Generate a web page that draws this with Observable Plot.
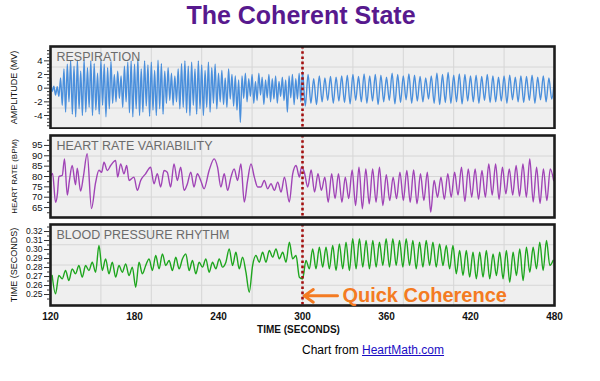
<!DOCTYPE html>
<html><head><meta charset="utf-8">
<script src="https://cdn.jsdelivr.net/npm/d3@7"></script>
<script src="https://cdn.jsdelivr.net/npm/@observablehq/plot@0.6"></script>
<style>
body{margin:0;background:#fff;font-family:"Liberation Sans",Arial,sans-serif;}
#wrap{position:relative;width:600px;height:381px;overflow:hidden;}
#title{position:absolute;top:1px;left:0;width:602px;text-align:center;font-weight:bold;font-size:25px;color:#57198e;}
.panel{position:absolute;left:0;}
.panel svg{background:transparent !important;}
#caption{position:absolute;top:343px;left:302px;font-size:12px;color:#000;white-space:nowrap;}
#caption a{color:#1a0dc4;text-decoration:underline;}
</style></head>
<body>
<div id="wrap">
  <div id="title">The Coherent State</div>
  <div class="panel" id="p1" style="top:40px"></div>
  <div class="panel" id="p2" style="top:129px"></div>
  <div class="panel" id="p3" style="top:219px"></div>
  <div id="caption">Chart from <a href="#">HeartMath.com</a></div>
</div>
<script>
// ---------- data ----------
const panelTitles = ["RESPIRATION", "HEART RATE VARIABILITY", "BLOOD PRESSURE RHYTHM"];
const yLabels = ["AMPLITUDE (MV)", "HEART RATE (BPM)", "TIME (SECONDS)"];
const xLabel = "TIME (SECONDS)";
const xTicks = [120, 180, 240, 300, 360, 420, 480];
const coherenceTime = 300;
const annotationText = "Quick Coherence";
const annotationArrow = [{x1: 325, x2: 301.2, y: 0.2485}];
const annotationLabel = [{x: 328.5, y: 0.2485}];

const respTicks = [-4, -2, 0, 2, 4];
const respMinor = [-5.5,-5,-4.5,-3.5,-3,-2.5,-1.5,-1,-0.5,0.5,1,1.5,2.5,3,3.5,4.5,5,5.5];
const hrTicks = [65, 70, 75, 80, 85, 90, 95];
const hrMinor = [62.5, 67.5, 72.5, 77.5, 82.5, 87.5, 92.5, 97.5];
const bpTicks = [0.25, 0.26, 0.27, 0.28, 0.29, 0.30, 0.31, 0.32];
const bpMinor = [0.245, 0.255, 0.265, 0.275, 0.285, 0.295, 0.305, 0.315, 0.325];

// Respiration, before coherence (every 1.2 s from 120 s)
const respStartA = 120, respStepA = 1.2;
const respA = [1.5,-0.5,0.3,-1.0,0.2,-1.2,1.5,-2.5,2.8,-3.5, 3.5,-2.0,4.0,-3.8,3.2,-4.2,4.1,-3.0,2.5,-4.0,
 4.2,-3.5,3.0,-2.8,4.0,-4.0,3.6,-3.2,2.2,-3.8, 4.1,-2.5,3.5,-4.2,3.0,-3.0,3.9,-2.2,2.0,-2.0,
 2.5,-1.5,1.8,-2.8,3.2,-2.0,3.8,-3.6,4.0,-4.2, 3.5,-3.0,4.2,-4.0,2.8,-3.5,4.0,-2.6,3.4,-4.1,
 3.8,-3.2,2.6,-4.0,4.1,-3.0,3.6,-3.8,2.5,-2.2, 3.0,-1.8,2.2,-2.5,1.8,-2.0,2.8,-3.0,3.6,-2.8,
 4.0,-3.6,3.2,-4.0,3.8,-2.5,2.8,-3.8,4.0,-3.0, 3.4,-4.0,2.6,-2.8,3.8,-3.5,3.0,-2.2,3.5,-3.0,
 2.2,-2.0,2.6,-2.4,1.5,-2.8,2.8,-1.6,2.0,-2.6, 1.8,-3.2,1.2,-5.0,1.8,-1.5,2.2,-2.0,1.4,-1.2,
 2.0,-2.2,1.0,-1.8,2.2,-1.0,1.6,-2.4,1.2,-1.4, 2.0,-2.0,1.4,-1.6,1.8,-2.2,1.0,-1.2,1.6,-1.8,
 1.2,-3.5,1.8,-1.4,2.0,-2.4,1.4,-1.6,2.2,-2.0, 2.4];
// Respiration, after coherence (every 2 s from 302 s)
const respStartB = 302, respStepB = 2;
const respB = [-2.6,2.0,-2.2,1.4,-2.4,1.8,-2.0,1.5,-1.8,1.7, -2.2,1.6,-1.9,1.8,-2.1,1.9,-2.3,2.0,-1.8,1.7,
 -2.0,2.1,-2.2,1.8,-1.9,2.0,-2.4,1.9,-2.0,1.6, -1.8,2.2,-2.3,2.0,-2.1,1.8,-1.7,2.1,-2.2,1.9,
 -1.9,1.7,-2.0,1.5,-1.6,1.8,-2.2,2.2,-2.4,2.0, -2.1,2.3,-2.2,1.9,-2.0,2.1,-2.3,2.0,-1.9,1.8,
 -2.0,1.9,-2.2,1.7,-1.8,2.0,-2.1,1.8,-2.0,1.6, -1.9,1.8,-2.2,1.9,-1.7,1.6,-2.0,1.8,-2.1,1.7,
 -1.8,1.9,-2.2,1.6,-1.7,1.8,-2.0,1.5,-1.6,1.4];

// Heart rate, before coherence (turning points)
const hrTimesA = [120.5,121.5,123.6,125,126,128.4,130,132,133.5,135.5,137.9,139.1,141.5,143.5,146.2,149.3,152.2,154.6,156.5,158.2,
 160.6,163,166.5,168,170.1,172.5,174.4,176.1,179.6,182,184.4,187.9,191.5,193.9,196.3,198.7,201.1,203.4,205.8,208.2,
 210.6,213,215.4,217.8,220.2,222.5,224.9,227.3,229.7,233.3,236.9,239.3,241.7,244.1,246.5,248.9,251.2,253.6,256,258.4,
 260.8,263.2,265.6,268,270.3,272.7,275.1,277.5,279.9,282.3,284.7,287.1,290.6,293,295.4,297.8,299.2];
const hrValsA = [80.5,81.5,67.5,72,80,80.5,88.5,71,78,85.3,76,84,73,80,91,64.5,77,83,82,86.9,
 82.9,85.3,87.7,79.7,86.1,81.3,85.3,78.1,79.7,73.3,78.1,81.3,84.5,76.5,81.3,74.9,82.9,82.1,74.9,86.1,
 78.1,84.5,73.3,76.5,82.1,74.9,81.3,78.1,74.1,82.9,88.5,84.5,74.9,81.3,73.3,79.7,83.7,78.1,86.1,67.7,
 78.1,86.1,79.7,74.9,74.9,78.1,74.1,76.5,73.3,77.3,72.5,79.7,67.7,81.3,85.3,79.7,84.5];
// Heart rate, after coherence (every 2.44 s from 301.3 s)
const hrStartB = 301.3, hrStepB = 2.44;
const hrB = [82.1,74.9,83.2,72.5,81.3,73.3,79.7,67.6,81.3,69.3, 81.3,67.6,79.7,69.3,83.2,66.0,84.5,64.4,83.7,66.8,
 83.7,67.6,84.5,66.0,80.9,68.4,79.7,69.3,82.1,68.4, 82.9,67.6,83.2,66.8,81.3,68.4,82.1,62.8,
 78.1,70.0,79.7,69.0,81.3,70.0,82.1,71.0,84.5,68.0, 83.7,70.0,83.7,69.0,82.9,70.0,86.1,71.0,86.1,69.0,
 84.5,71.6,83.7,71.0,85.3,70.5,86.1,70.0,88.5,67.7, 84.5,67.0,83.7,68.4,83.7,78.0];

// Blood pressure rhythm, before coherence (every 2.386 s from 121.2 s)
const bpStartA = 121.2, bpStepA = 2.386;
const bpA = [.2711,.2507,.2711,.2674,.2767,.2656,.2785,.2730,.2822,.2693, .2822,.2767,.2859,.2748,.3044,.2767,.2896,.2730,.2859,.2693,
 .2822,.2748,.2841,.2711,.2804,.2581,.2859,.2730,.2822,.2896, .2767,.2933,.2785,.2952,.2822,.2878,.2767,.2915,.2785,.2896,
 .2952,.2767,.2878,.2730,.2859,.2804,.2896,.2748,.2859,.2785, .2896,.2804,.2859,.3007,.2822,.2970,.2785,.2915,.2748,.2526,
 .2822,.2933,.2859,.2970,.2859,.2989,.2915,.3007,.2896,.2970, .2859,.3081,.2896,.2933,.2693];
// Blood pressure rhythm, after coherence (every 2.386 s from 300.1 s)
const bpStartB = 300.1, bpStepB = 2.386;
const bpB = [.2674,.2878, .2785,.3007,.2785,.3026,.2804,.3026,.2785,.3044,.2767,.3063,
 .2785,.3081,.2767,.3119,.2785,.3119,.2804,.3100,.2785,.3100, .2804,.3081,.2822,.3119,.2804,.3119,.2822,.3100,.2804,.3119,
 .2822,.3100,.2785,.3081,.2804,.3100,.2822,.3081,.2804,.3063, .2822,.3044,.2785,.3044,.2730,.2989,.2711,.2989,.2693,.2970,
 .2674,.2970,.2693,.2989,.2674,.2952,.2711,.2970,.2674,.2989, .2637,.2970,.2711,.3007,.2656,.3026,.2748,.3026,.2785,.3081,
 .2767,.3100,.2822,.2880];

// ---------- build tables ----------
const series = (vals, t0, dt) => vals.map((v, i) => ({t: t0 + i * dt, v}));
const respData = [...series(respA, respStartA, respStepA), ...series(respB, respStartB, respStepB)];
const hrData = [...hrTimesA.map((t, i) => ({t, v: hrValsA[i]})), ...series(hrB, hrStartB, hrStepB)];
const bpData = [...series(bpA, bpStartA, bpStepA), ...series(bpB, bpStartB, bpStepB)];

const xDomain = [120, 480];
const vGrid = d3.range(1, 10).map(k => xDomain[0] + k * (xDomain[1] - xDomain[0]) / 10);
const quarters = ([a, b]) => [1, 2, 3].map(k => a + k * (b - a) / 4);
const FONT = "Liberation Sans, Arial, sans-serif";

function panel(o) {
  const marks = [
    Plot.frame({fill: "#efefef"}),
    Plot.gridX(vGrid, {stroke: "#d6d6d6", strokeOpacity: 1}),
    Plot.gridY(quarters(o.domain), {stroke: "#d6d6d6", strokeOpacity: 1}),
    Plot.line(o.data, {x: "t", y: "v", stroke: o.color, strokeWidth: 1.4, curve: "monotone-x"}),
    Plot.ruleX([coherenceTime], {stroke: "#a3100f", strokeWidth: 2.6, strokeDasharray: "2.6,2.6"}),
    Plot.frame({stroke: "#1d1d1d", strokeWidth: 2.6}),
    Plot.axisY(o.minor, {tickSize: 3, text: null, stroke: "#333", label: null}),
    Plot.axisY(o.ticks, {tickSize: 6, tickPadding: 2, fontSize: o.tickSize, fill: "#111", stroke: "#333", tickFormat: o.fmt, label: null}),
    Plot.text([o.title], {text: d => d, frameAnchor: "top-left", dx: 6, dy: 6, lineAnchor: "top", textAnchor: "start", fill: "#6b6b6b", fontSize: 12.5}),
    Plot.text([o.yLabel], {text: d => d, frameAnchor: "left", textAnchor: "middle", lineAnchor: "middle", rotate: -90, dx: -36, fontSize: o.yLabelSize, fill: "#111"}),
    ...(o.extra || [])
  ];
  return Plot.plot({
    width: 600, height: o.height,
    marginLeft: 50, marginRight: 46, marginTop: o.mt, marginBottom: o.mb,
    style: {background: "transparent", fontFamily: FONT},
    x: {domain: xDomain, axis: null, label: null},
    y: {domain: o.domain, axis: null, label: null},
    marks
  });
}

document.getElementById("p1").append(panel({
  data: respData, color: "#4a8fdc", domain: [-5.9, 6.1], ticks: respTicks, minor: respMinor, fmt: d => d,
  title: panelTitles[0], yLabel: yLabels[0], yLabelSize: 9, tickSize: 9.5, height: 89, mt: 6, mb: 1
}));
document.getElementById("p2").append(panel({
  data: hrData, color: "#a044b6", domain: [60.2, 99.8], ticks: hrTicks, minor: hrMinor, fmt: d => d,
  title: panelTitles[1], yLabel: yLabels[1], yLabelSize: 8, tickSize: 9.5, height: 90, mt: 6, mb: 2
}));
document.getElementById("p3").append(panel({
  data: bpData, color: "#1ea61e", domain: [0.2378, 0.3278], ticks: bpTicks, minor: bpMinor, fmt: d3.format(".2f"),
  title: panelTitles[2], yLabel: yLabels[2], yLabelSize: 9, tickSize: 8.5, height: 126, mt: 5, mb: 40,
  extra: [
    Plot.arrow(annotationArrow, {x1: "x1", x2: "x2", y1: "y", y2: "y", stroke: "#f47b22", strokeWidth: 3, headLength: 9, headAngle: 70}),
    Plot.text(annotationLabel, {x: "x", y: "y", text: () => annotationText, textAnchor: "start", fill: "#f47b22", fontWeight: "bold", fontSize: 20}),
    Plot.axisX(xTicks, {tickSize: 0, tickPadding: 7, fontWeight: "bold", fontSize: 10, fill: "#111", label: null}),
    Plot.text([xLabel], {text: d => d, frameAnchor: "bottom", dy: 27, dx: -4, fontWeight: "bold", fontSize: 10, fill: "#111"})
  ]
}));
</script>
</body></html>
